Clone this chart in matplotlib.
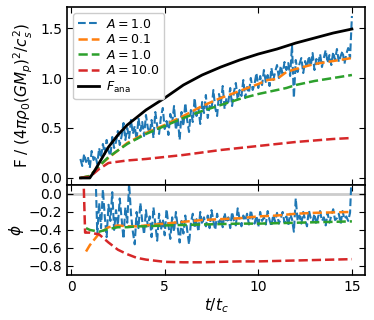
import numpy as np
import matplotlib
matplotlib.use("Agg")
import matplotlib.pyplot as plt

# ---------------- data ----------------
# blue run (A=1.0), sampled on a regular time grid
blue_t0, blue_t1 = 0.5, 15.0
blue_F = [
    0.19, 0.12, 0.24, 0.16, 0.21, 0.10, 0.27, 0.18, 0.22, 0.14,
    0.30, 0.20, 0.34, 0.24, 0.38, 0.27, 0.22, 0.41, 0.30, 0.36,
    0.47, 0.33, 0.42, 0.55, 0.38, 0.50, 0.40, 0.58, 0.44, 0.52,
    0.38, 0.60, 0.47, 0.56, 0.42, 0.63, 0.50, 0.45, 0.58, 0.40,
    0.66, 0.52, 0.44, 0.61, 0.70, 0.49, 0.57, 0.43, 0.64, 0.55,
    0.72, 0.48, 0.60, 0.38, 0.66, 0.52, 0.75, 0.58, 0.46, 0.68,
    0.56, 0.80, 0.62, 0.70, 0.54, 0.76, 0.65, 0.83, 0.60, 0.72,
    0.68, 0.88, 0.70, 0.62, 0.84, 0.74, 0.92, 0.69, 0.80, 0.76,
    0.90, 0.72, 0.86, 0.95, 0.78, 0.88, 0.82, 0.98, 0.80, 0.91,
    0.85, 1.00, 0.88, 0.94, 1.05, 0.90, 1.02, 0.93, 1.08, 0.96,
    1.03, 0.92, 1.10, 0.98, 1.06, 1.13, 1.00, 1.12, 1.04, 1.16,
    1.08, 1.15, 1.02, 1.33, 0.80, 1.18, 1.06, 1.14, 1.20, 1.05,
    1.17, 1.10, 1.22, 1.12, 1.25, 1.08, 1.19, 1.14, 1.24, 1.11,
    1.20, 1.28, 1.15, 1.23, 1.13, 1.26, 1.18, 1.29, 1.16, 1.22,
    1.27, 1.14, 1.24, 1.30, 1.20, 1.62,
]
blue_phi_t0, blue_phi_t1 = 1.3, 15.0
blue_phi = [
    0.30, -0.45, -0.10, -0.38, 0.05, -0.25, -0.48, -0.12, -0.30, 0.02,
    -0.40, -0.18, -0.35, -0.05, -0.28, -0.50, -0.15, -0.32, 0.12, -0.22,
    -0.42, -0.56, -0.20, -0.38, -0.10, -0.30, -0.45, -0.18, -0.36, -0.25,
    -0.48, -0.15, -0.33, -0.52, -0.22, -0.40, -0.28, -0.46, -0.17, -0.35,
    -0.50, -0.26, -0.42, -0.20, -0.38, -0.54, -0.30, -0.44, -0.24, -0.40,
    -0.56, -0.32, -0.22, -0.38, -0.28, -0.42, -0.20, -0.34, -0.26, -0.36,
    -0.24, -0.38, -0.18, -0.30, -0.40, -0.22, -0.33, -0.27, -0.37, -0.21,
    -0.32, -0.26, -0.38, -0.20, -0.30, -0.35, -0.16, -0.28, -0.36, -0.24,
    -0.30, -0.22, -0.34, -0.18, -0.28, -0.33, -0.24, -0.37, -0.20, -0.30,
    -0.26, -0.34, -0.19, -0.29, -0.36, -0.23, -0.31, -0.21, -0.33, -0.27,
    -0.20, -0.32, -0.25, -0.35, -0.22, -0.28, -0.42, -0.05, -0.30, -0.24,
    -0.33, -0.20, -0.29, -0.36, -0.18, -0.27, -0.31, -0.22, -0.34, -0.25,
    -0.19, -0.30, -0.26, -0.35, -0.21, -0.32, -0.24, -0.17, -0.29, -0.27,
    -0.22, -0.33, -0.19, -0.28, -0.25, -0.30, -0.21, 0.30,
]

# smooth runs
t_smooth = [0.5, 1.0, 1.5, 2.0, 3.0, 4.0, 5.0, 6.0, 7.0, 8.0, 9.0, 10.0,
            10.5, 11.0, 11.5, 12.0, 13.0, 14.0, 15.0]
orange_F = [0.0, 0.02, 0.12, 0.20, 0.35, 0.45, 0.53, 0.62, 0.72, 0.80, 0.87, 0.94,
            0.98, 0.99, 1.06, 1.09, 1.14, 1.17, 1.20]
green_F = [0.0, 0.02, 0.12, 0.21, 0.34, 0.44, 0.52, 0.60, 0.67, 0.73, 0.79, 0.84,
           0.86, 0.88, 0.90, 0.93, 0.97, 1.00, 1.03]
red_F = [0.0, 0.01, 0.09, 0.15, 0.175, 0.19, 0.21, 0.23, 0.255, 0.28, 0.30, 0.32,
         0.33, 0.34, 0.35, 0.36, 0.375, 0.39, 0.40]

t_ana = [0.5, 1.0, 1.25, 1.5, 2.0, 2.5, 3.0, 4.0, 5.0, 6.0, 7.0, 8.0, 9.0, 10.0,
         11.0, 12.0, 13.0, 14.0, 15.0]
F_ana = [0.0, 0.0, 0.07, 0.15, 0.31, 0.43, 0.53, 0.68, 0.80, 0.93, 1.03, 1.11,
         1.18, 1.24, 1.29, 1.35, 1.40, 1.45, 1.49]

t_phi = [0.62, 0.75, 0.8, 1.0, 1.5, 2.0, 2.5, 3.0, 3.5, 4.0, 5.0, 6.0, 7.0, 8.0,
         9.0, 10.0, 11.0, 12.0, 13.0, 14.0, 15.0]
orange_phi = [np.nan, np.nan, -0.64, -0.57, -0.44, -0.37, -0.35, -0.36, -0.36, -0.35,
              -0.33, -0.31, -0.29, -0.28, -0.27, -0.25, -0.24, -0.22, -0.21, -0.205, -0.20]
green_phi = [np.nan, np.nan, -0.38, -0.40, -0.42, -0.39, -0.37, -0.37, -0.36, -0.36,
             -0.35, -0.345, -0.34, -0.335, -0.33, -0.33, -0.325, -0.32, -0.315, -0.31, -0.305]
red_phi = [0.5, -0.43, -0.43, -0.43, -0.45, -0.54, -0.62, -0.67, -0.71, -0.73,
           -0.755, -0.76, -0.76, -0.755, -0.75, -0.75, -0.745, -0.74, -0.735, -0.73, -0.725]

labels = ["$A=1.0$", "$A=0.1$", "$A=1.0$", "$A=10.0$", r"$F_{\rm ana}$"]
colors = ["#1f77b4", "#ff7f0e", "#2ca02c", "#d62728", "black"]

# ---------------- plot ----------------
plt.rcParams["font.family"] = "DejaVu Sans"
fig = plt.figure(figsize=(3.74, 3.2), dpi=100)
ax1 = fig.add_axes([0.179, 0.422, 0.797, 0.556])
ax2 = fig.add_axes([0.179, 0.141, 0.797, 0.281], sharex=ax1)

tb = np.linspace(blue_t0, blue_t1, len(blue_F))
tbp = np.linspace(blue_phi_t0, blue_phi_t1, len(blue_phi))

ax1.plot(tb, blue_F, ls="--", color=colors[0], lw=1.5, label=labels[0])
ax1.plot(t_smooth, orange_F, ls="--", color=colors[1], lw=1.8, label=labels[1])
ax1.plot(t_smooth, green_F, ls="--", color=colors[2], lw=1.8, label=labels[2])
ax1.plot(t_smooth, red_F, ls="--", color=colors[3], lw=1.8, label=labels[3])
ax1.plot(t_ana, F_ana, ls="-", color=colors[4], lw=2.0, label=labels[4])

ax2.axhline(0.0, color="0.8", lw=2, zorder=0)
ax2.plot(tbp, blue_phi, ls="--", color=colors[0], lw=1.5)
ax2.plot(t_phi, orange_phi, ls="--", color=colors[1], lw=1.8)
ax2.plot(t_phi, green_phi, ls="--", color=colors[2], lw=1.8)
ax2.plot(t_phi, red_phi, ls="--", color=colors[3], lw=1.8)

ax1.set_xlim(-0.22, 15.7)
ax1.set_ylim(-0.07, 1.71)
ax2.set_ylim(-0.9, 0.1)
ax1.set_yticks([0.0, 0.5, 1.0, 1.5])
ax2.set_yticks([0.0, -0.2, -0.4, -0.6, -0.8])
ax2.set_xticks([0, 5, 10, 15])

for ax in (ax1, ax2):
    ax.tick_params(direction="in", top=True, right=True, labelsize=10, length=4)
    for s in ax.spines.values():
        s.set_linewidth(1.2)
ax1.tick_params(labelbottom=False)

ax1.set_ylabel(r"F / $(4\pi\rho_0(GM_p)^2/c_s^2)$", fontsize=11, labelpad=4)
ax2.set_ylabel(r"$\phi$", fontsize=11, labelpad=2)
ax2.set_xlabel(r"$t/t_c$", fontsize=11, labelpad=2)

ax1.legend(loc="upper left", fontsize=9, handlelength=1.7, framealpha=1.0,
           borderpad=0.35, labelspacing=0.2, handletextpad=0.6)

fig.savefig("out.png", dpi=100)
